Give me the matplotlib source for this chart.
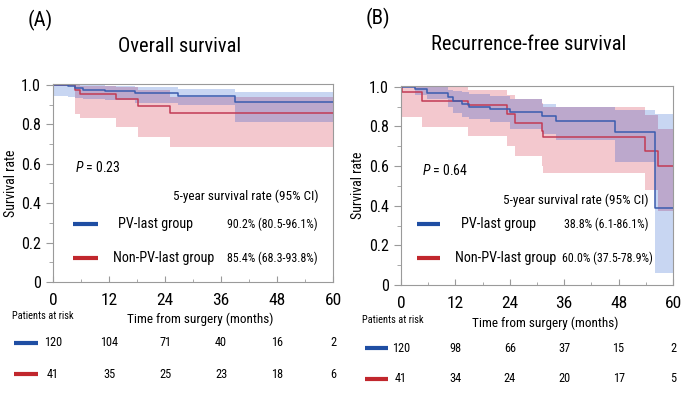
import numpy as np
import matplotlib
matplotlib.use('Agg')
import matplotlib.pyplot as plt
import matplotlib.transforms as mtransforms
from matplotlib import font_manager as fm

# pick a narrow sans font if one is installed, else a plain one at smaller sizes
prefs = ['Liberation Sans', 'Noto Sans', 'Open Sans', 'Roboto', 'DejaVu Sans']
cands = []
for f in fm.fontManager.ttflist:
    st = str(f.stretch)
    narrowish = st in ('condensed', 'semi-condensed') or 'Narrow' in f.name or 'Condensed' in f.name
    if narrowish and f.style == 'normal' and f.weight in (400, 'normal', 'regular'):
        rank = next((i for i, p in enumerate(prefs) if f.name.startswith(p)), len(prefs))
        cands.append((rank, f.name, st))
cands.sort()
if cands:
    FONT, STRETCH, FS = cands[0][1], cands[0][2], 1.0
else:
    FONT, STRETCH, FS = 'Lato', 'normal', 0.85
plt.rcParams['font.family'] = [FONT, 'DejaVu Sans']
plt.rcParams['font.stretch'] = STRETCH
plt.rcParams['mathtext.fontset'] = 'custom'
plt.rcParams['mathtext.it'] = FONT + ':italic'
plt.rcParams['mathtext.rm'] = FONT

# ---- data ----
# (A) overall survival
os_pv_t = [0, 3.3, 4.7, 6.5, 11.1, 17.6, 26.8, 39.0, 60]
os_pv_s = [1.0, 0.992, 0.984, 0.975, 0.970, 0.958, 0.945, 0.912, 0.912]
os_pv_lo = [0.944, 0.94, 0.935, 0.93, 0.925, 0.91, 0.895, 0.81, 0.81]
os_pv_hi = [1.0, 1.0, 1.0, 1.0, 0.995, 0.99, 0.98, 0.961, 0.961]

os_np_t = [0, 4.7, 5.8, 13.6, 18.2, 25.1, 60]
os_np_s = [1.0, 0.976, 0.951, 0.928, 0.894, 0.855, 0.855]
os_np_lo = [1.0, 0.852, 0.83, 0.785, 0.734, 0.687, 0.687]
os_np_hi = [1.0, 1.0, 0.995, 0.99, 0.975, 0.938, 0.938]

# (B) recurrence-free survival
rfs_pv_t = [0, 3.1, 5.7, 10.4, 11.5, 13.4, 14.9, 19.6, 24.0, 31.0, 34.3, 47.2, 56.0, 60]
rfs_pv_s = [1.0, 0.99, 0.97, 0.95, 0.93, 0.913, 0.90, 0.888, 0.871, 0.854, 0.829, 0.774, 0.388, 0.388]
rfs_pv_lo = [1.0, 0.96, 0.94, 0.90, 0.87, 0.85, 0.835, 0.82, 0.785, 0.76, 0.73, 0.62, 0.061, 0.061]
rfs_pv_hi = [1.0, 1.0, 1.0, 0.985, 0.98, 0.975, 0.965, 0.955, 0.94, 0.913, 0.896, 0.885, 0.861, 0.861]

rfs_np_t = [0, 0.3, 4.6, 14.8, 23.3, 25.1, 31.0, 31.4, 53.8, 56.7, 60]
rfs_np_s = [1.0, 0.976, 0.926, 0.91, 0.864, 0.816, 0.779, 0.745, 0.678, 0.60, 0.60]
rfs_np_lo = [1.0, 0.846, 0.795, 0.754, 0.70, 0.653, 0.60, 0.563, 0.477, 0.375, 0.375]
rfs_np_hi = [1.0, 1.0, 1.0, 0.985, 0.96, 0.94, 0.92, 0.90, 0.86, 0.789, 0.789]

risk_times = [0, 12, 24, 36, 48, 60]
os_risk_pv = [120, 104, 71, 40, 16, 2]
os_risk_np = [41, 35, 25, 23, 18, 6]
rfs_risk_pv = [120, 98, 66, 37, 15, 2]
rfs_risk_np = [41, 34, 24, 20, 17, 5]

os_p = '0.23'
rfs_p = '0.64'
os_rates = ['90.2% (80.5-96.1%)', '85.4% (68.3-93.8%)']
rfs_rates = ['38.8% (6.1-86.1%)', '60.0% (37.5-78.9%)']

# ---- styles ----
BLUE = '#3a5cae'
RED = '#c23b55'
BLUE_LEG = '#1f4ea3'
RED_LEG = '#c1272d'
BLUE_BAND = '#c8d6f2'
RED_BAND = '#f3c8ce'
OVERLAP = '#bca8cc'
SPINE = '#9a9a9a'

W, H = 685, 400


def fx(x):
    return x / W


def fy(y):
    return 1 - y / H


def stepval(t, v, grid):
    t = np.asarray(t)
    v = np.asarray(v)
    idx = np.searchsorted(t, grid, side='right') - 1
    return v[np.clip(idx, 0, len(v) - 1)]


def km_panel(ax, pv, npv):
    pv_t, pv_s, pv_lo, pv_hi = pv
    np_t, np_s, np_lo, np_hi = npv
    ax.fill_between(pv_t, pv_lo, pv_hi, step='post', color=BLUE_BAND, lw=0)
    ax.fill_between(np_t, np_lo, np_hi, step='post', color=RED_BAND, lw=0)
    # overlap of the two bands drawn darker, like stacked transparencies
    grid = np.unique(np.concatenate([pv_t, np_t]))
    lo = np.maximum(stepval(pv_t, pv_lo, grid), stepval(np_t, np_lo, grid))
    hi = np.minimum(stepval(pv_t, pv_hi, grid), stepval(np_t, np_hi, grid))
    hi = np.maximum(hi, lo)
    ax.fill_between(grid, lo, hi, step='post', color=OVERLAP, lw=0)
    ax.step(np_t, np_s, where='post', color=RED, lw=1.1)
    ax.step(pv_t, pv_s, where='post', color=BLUE, lw=1.1)

    ax.set_xlim(0, 60)
    ax.set_ylim(0, 1.004)
    ax.set_xticks(risk_times)
    ax.set_xticks(range(6, 60, 12), minor=True)
    ax.set_yticks([0, 0.2, 0.4, 0.6, 0.8, 1.0])
    ax.set_yticklabels(['0', '0.2', '0.4', '0.6', '0.8', '1.0'])
    ax.set_yticks([0.1, 0.3, 0.5, 0.7, 0.9], minor=True)
    ax.tick_params(axis='y', which='major', direction='out', length=5, width=0.8,
                   color=SPINE, labelsize=11.5 * FS, pad=4)
    ax.tick_params(axis='y', which='minor', direction='out', length=3, width=0.6, color=SPINE)
    ax.tick_params(axis='x', which='major', direction='in', length=4, width=0.8,
                   color=SPINE, labelsize=12.5 * FS, pad=8)
    ax.tick_params(axis='x', which='minor', direction='in', length=2.5, width=0.6, color=SPINE)
    for sp in ax.spines.values():
        sp.set_color(SPINE)
        sp.set_linewidth(0.8)


fig = plt.figure(figsize=(W / 100, H / 100), dpi=100)

panels = [
    dict(left=53, right=333, top=84, bottom=282, tag='(A)', tag_xy=(40, 20),
         title='Overall survival', title_xy=(180, 46), ylab_x=11,
         data=((os_pv_t, os_pv_s, os_pv_lo, os_pv_hi), (os_np_t, os_np_s, os_np_lo, os_np_hi)),
         p=os_p, p_xy=(4.7, 0.58), hdr_xy=(56.8, 0.434), rates=os_rates,
         leg_x=(4.3, 9.6), leg_y=(0.293, 0.121), name_x=(13.9, 12.9), rate_x=(56.8, 56.8),
         risk=(os_risk_pv, os_risk_np), risk_y=(343, 374), risk_line=(14, 38),
         par_xy=(43, 316), xlab_xy=(200, 319)),
    dict(left=401, right=673, top=86, bottom=285, tag='(B)', tag_xy=(378, 18),
         title='Recurrence-free survival', title_xy=(529, 45), ylab_x=358,
         data=((rfs_pv_t, rfs_pv_s, rfs_pv_lo, rfs_pv_hi), (rfs_np_t, rfs_np_s, rfs_np_lo, rfs_np_hi)),
         p=rfs_p, p_xy=(4.6, 0.578), hdr_xy=(54.5, 0.427), rates=rfs_rates,
         leg_x=(3.5, 8.6), leg_y=(0.307, 0.136), name_x=(13.2, 11.9), rate_x=(54.5, 55.6),
         risk=(rfs_risk_pv, rfs_risk_np), risk_y=(348, 379), risk_line=(365, 388),
         par_xy=(393, 320), xlab_xy=(545, 323)),
]

for pn in panels:
    ax = fig.add_axes([fx(pn['left']), fy(pn['bottom']),
                       (pn['right'] - pn['left']) / W, (pn['bottom'] - pn['top']) / H])
    km_panel(ax, *pn['data'])

    fig.text(fx(pn['tag_xy'][0]), fy(pn['tag_xy'][1]), pn['tag'], fontsize=15 * FS,
             ha='center', va='center')
    fig.text(fx(pn['title_xy'][0]), fy(pn['title_xy'][1]), pn['title'], fontsize=14.8 * FS,
             ha='center', va='center')
    fig.text(fx(pn['ylab_x']), fy((pn['top'] + pn['bottom']) / 2), 'Survival rate',
             rotation=90, fontsize=10 * FS, ha='center', va='center')

    ax.text(pn['p_xy'][0], pn['p_xy'][1], r'$P$ = ' + pn['p'], fontsize=10 * FS, va='center')
    ax.text(pn['hdr_xy'][0], pn['hdr_xy'][1], '5-year survival rate (95% CI)',
            fontsize=9.5 * FS, ha='right', va='center')
    names = ['PV-last group', 'Non-PV-last group']
    for i, col in enumerate([BLUE_LEG, RED_LEG]):
        yy = pn['leg_y'][i]
        ax.plot(pn['leg_x'], [yy, yy], color=col, lw=3, solid_capstyle='butt')
        ax.text(pn['name_x'][i], yy, names[i], fontsize=10.2 * FS, va='center')
        ax.text(pn['rate_x'][i], yy, pn['rates'][i], fontsize=8.6 * FS, ha='right', va='center')

    fig.text(fx(pn['par_xy'][0]), fy(pn['par_xy'][1]), 'Patients at risk', fontsize=7.5 * FS,
             ha='center', va='center')
    fig.text(fx(pn['xlab_xy'][0]), fy(pn['xlab_xy'][1]), 'Time from surgery (months)',
             fontsize=9.5 * FS, ha='center', va='center')

    trans = mtransforms.blended_transform_factory(ax.transData, fig.transFigure)
    for row, col, ry in zip(pn['risk'], [BLUE_LEG, RED_LEG], pn['risk_y']):
        fig.add_artist(plt.Line2D([fx(pn['risk_line'][0]), fx(pn['risk_line'][1])],
                                  [fy(ry), fy(ry)], color=col, lw=3,
                                  solid_capstyle='butt'))
        for t, n in zip(risk_times, row):
            ax.text(t, fy(ry), str(n), transform=trans, fontsize=8.8 * FS,
                    ha='center', va='center')

fig.savefig('out.png', dpi=100)
